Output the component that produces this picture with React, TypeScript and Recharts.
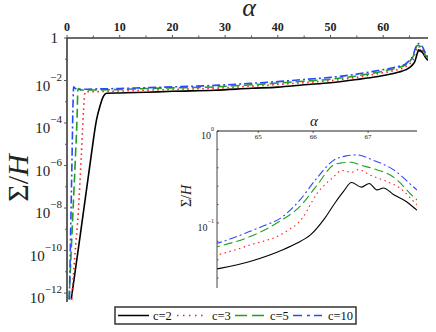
import React from 'react';
import { LineChart, Line, XAxis, YAxis } from 'recharts';

// ---------- data ----------
const alphaC2 = [0.8, 1.5, 2.5, 3.5, 4.5, 5.6, 6.26, 6.9, 7.5, 10, 15, 20, 28, 35, 40, 45, 50, 55, 59, 61, 63, 64.25, 64.85, 65.46, 65.7, 65.95, 66.2, 66.4, 66.55, 66.7, 66.88, 67.02, 67.16, 67.28, 67.46, 67.7, 67.89, 68.5];
const sigmaC2 = [5.0e-13, 8.7e-12, 5.0e-10, 3.2e-8, 2.0e-6, 1.4e-4, 6.3e-4, 1.8e-3, 2.5e-3, 2.6e-3, 2.8e-3, 3.1e-3, 3.5e-3, 4.3e-3, 4.9e-3, 6.3e-3, 7.9e-3, 1.12e-2, 1.55e-2, 1.9e-2, 2.5e-2, 3.16e-2, 3.8e-2, 5.13e-2, 6.0e-2, 7.4e-2, 0.110, 0.166, 0.219, 0.275, 0.245, 0.269, 0.229, 0.240, 0.204, 0.170, 0.138, 0.089];

const alphaC3 = [0.9, 1.5, 2.14, 2.7, 3.13, 3.35, 3.6, 5, 10, 15, 20, 28, 35, 40, 45, 50, 55, 59, 61, 63, 64.25, 64.85, 65.46, 65.8, 66.07, 66.37, 66.52, 66.7, 66.82, 67.04, 67.34, 67.58, 67.89, 68.5];
const sigmaC3 = [5.0e-13, 6.3e-11, 6.3e-9, 2.5e-6, 3.7e-4, 2.2e-3, 3.0e-3, 3.0e-3, 3.2e-3, 3.5e-3, 3.8e-3, 4.3e-3, 5.4e-3, 6.5e-3, 7.9e-3, 9.8e-3, 1.41e-2, 2.1e-2, 2.57e-2, 3.4e-2, 4.47e-2, 5.75e-2, 7.76e-2, 0.112, 0.209, 0.316, 0.372, 0.355, 0.380, 0.331, 0.282, 0.240, 0.158, 0.105];

const alphaC5 = [0.4, 0.8, 1.2, 1.6, 1.95, 2.05, 2.2, 2.6, 5, 10, 15, 20, 28, 35, 40, 45, 50, 55, 59, 61, 63, 64.25, 64.85, 65.4, 65.76, 66.07, 66.37, 66.49, 66.7, 66.85, 67.1, 67.46, 67.89, 68.5];
const sigmaC5 = [5.0e-13, 1.0e-10, 1.6e-8, 2.5e-6, 4.0e-4, 3.5e-3, 4.2e-3, 3.6e-3, 3.6e-3, 3.8e-3, 4.2e-3, 4.5e-3, 5.0e-3, 6.3e-3, 7.6e-3, 9.3e-3, 1.15e-2, 1.66e-2, 2.45e-2, 3.1e-2, 4.1e-2, 5.5e-2, 7.1e-2, 0.105, 0.151, 0.257, 0.427, 0.447, 0.457, 0.427, 0.389, 0.316, 0.178, 0.117];

const alphaC10 = [0.45, 0.7, 0.95, 1.15, 1.25, 1.5, 2, 5, 10, 15, 20, 28, 35, 40, 45, 50, 55, 59, 61, 63, 64.25, 64.85, 65.1, 65.4, 65.76, 66.07, 66.37, 66.61, 66.79, 67.1, 67.46, 67.89, 68.5];
const sigmaC10 = [5.0e-13, 1.0e-9, 2.0e-6, 1.0e-3, 5.0e-3, 4.4e-3, 3.8e-3, 4.0e-3, 4.2e-3, 4.6e-3, 5.0e-3, 5.9e-3, 7.4e-3, 8.9e-3, 1.12e-2, 1.41e-2, 2.0e-2, 2.95e-2, 3.6e-2, 4.7e-2, 6.0e-2, 8.1e-2, 9.3e-2, 0.112, 0.178, 0.309, 0.479, 0.537, 0.550, 0.479, 0.380, 0.229, 0.132];

const seriesNames = ['c=2', 'c=3', 'c=5', 'c=10'];
const mainXTicks = [0, 5, 10, 15, 20, 25, 30, 35, 40, 45, 50, 55, 60, 65];
const mainYExponents = [0, -1, -2, -3, -4, -5, -6, -7, -8, -9, -10, -11, -12];
const insetXTicks = [65, 66, 67];
const insetYExponents = [0, -0.2, -0.4, -0.6, -0.8, -1, -1.2, -1.4, -1.6];

// ---------- styles ----------
const FONT = '"Liberation Serif", "DejaVu Serif", serif';
const styles = [
  { color: '#000000', dash: undefined as string | undefined },
  { color: '#ff1a1a', dash: '1.5 3.5' },
  { color: '#1fa01f', dash: '9 4' },
  { color: '#2a48ff', dash: '8 3 2 3' },
];

const toPoints = (a: number[], s: number[]) => a.map((x, i) => ({ a: x, v: s[i] }));
const series = [
  toPoints(alphaC2, sigmaC2),
  toPoints(alphaC3, sigmaC3),
  toPoints(alphaC5, sigmaC5),
  toPoints(alphaC10, sigmaC10),
];

const MainXTick = (props: any) => {
  const { x, y, payload } = props;
  const v = payload.value;
  const major = v % 10 === 0;
  return (
    <g>
      <line x1={x} x2={x} y1={y} y2={y - (major ? 3 : 2.5)} stroke="#555" strokeWidth={1} />
      {major && (
        <text x={x} y={y - 7} textAnchor="middle" fontFamily={FONT} fontSize={12} fontWeight="bold" fill="#222">
          {v}
        </text>
      )}
    </g>
  );
};

const MainYTick = (props: any) => {
  const { x, y, payload } = props;
  const n = Math.round(Math.log10(payload.value));
  const major = n % 2 === 0;
  return (
    <g>
      <line x1={x} x2={x - (major ? 3 : 2)} y1={y} y2={y} stroke="#555" strokeWidth={1} />
      {major && n === 0 && (
        <text x={x - 9} y={y + 5} textAnchor="end" fontFamily={FONT} fontSize={15} fill="#222">1</text>
      )}
      {major && n !== 0 && (
        <text x={x - 5} y={y + 10} textAnchor="end" fontFamily={FONT} fontSize={15} fill="#222">
          10
          <tspan dy={-10} fontSize={11}>{String(n).replace('-', '\u2212')}</tspan>
        </text>
      )}
    </g>
  );
};

const InsetXTick = (props: any) => {
  const { x, y, payload } = props;
  return (
    <g>
      <line x1={x} x2={x} y1={y} y2={y + 2} stroke="#333" strokeWidth={0.8} />
      <text x={x} y={y + 8} textAnchor="middle" fontFamily={FONT} fontSize={7} fill="#222">{payload.value}</text>
    </g>
  );
};

const InsetYTick = (props: any) => {
  const { x, y, payload } = props;
  const e = Math.log10(payload.value);
  const n = Math.round(e);
  const major = Math.abs(e - n) < 0.01;
  return (
    <g>
      <line x1={x} x2={x + (major ? 2 : 1.5)} y1={y} y2={y} stroke="#333" strokeWidth={0.8} />
      {major && (
        <text x={x - 3} y={y + 8} textAnchor="end" fontFamily={FONT} fontSize={10} fill="#222">
          10
          <tspan dy={-8} fontSize={6}>{n === 0 ? '0' : '\u2212' + String(-n)}</tspan>
        </text>
      )}
    </g>
  );
};

const renderLines = (w: number) =>
  series.map((pts, i) => (
    <Line
      key={seriesNames[i]}
      name={seriesNames[i]}
      data={pts}
      dataKey="v"
      type="monotone"
      stroke={styles[i].color}
      strokeWidth={w}
      strokeDasharray={styles[i].dash}
      dot={false}
      activeDot={false}
      isAnimationActive={false}
    />
  ));

const Legend = () => {
  const items = [
    { x1: 118, x2: 149, tx: 153 },
    { x1: 177, x2: 204, tx: 212 },
    { x1: 235, x2: 265, tx: 270 },
    { x1: 293, x2: 322, tx: 328 },
  ];
  return (
    <g>
      <rect x={115} y={307} width={241} height={17} fill="#fff" stroke="#333" strokeWidth={1.5} />
      {items.map((it, i) => (
        <g key={seriesNames[i]}>
          <line x1={it.x1} x2={it.x2} y1={315.5} y2={315.5} stroke={styles[i].color} strokeWidth={1.5}
            strokeDasharray={i === 1 ? '1.5 4.5' : i === 2 ? '12 5' : i === 3 ? '9 5 3 4' : undefined} />
          <text x={it.tx} y={320} fontFamily={FONT} fontSize={12.5} fill="#111">{seriesNames[i]}</text>
        </g>
      ))}
    </g>
  );
};

export default function App() {
  const mainYTicks = mainYExponents.map((e) => Math.pow(10, e));
  const insetYTicks = insetYExponents.map((e) => Math.pow(10, e));
  return (
    <div style={{ position: 'absolute', left: 0, top: 0, width: 436, height: 332, background: '#fff', overflow: 'hidden' }}>
      <div style={{ position: 'absolute', left: 0, top: 0 }}>
        <LineChart width={436} height={332} margin={{ top: 0, right: 8, bottom: 30, left: 0 }}>
          <XAxis
            dataKey="a"
            type="number"
            orientation="top"
            domain={[0, 68.5]}
            allowDataOverflow
            ticks={mainXTicks}
            tick={<MainXTick />}
            tickLine={false}
            tickSize={0}
            tickMargin={0}
            height={38}
            axisLine={{ stroke: '#3a3a3a', strokeWidth: 1.6 }}
            interval={0}
          />
          <YAxis
            type="number"
            scale="log"
            domain={[3.8e-13, 1]}
            allowDataOverflow
            ticks={mainYTicks}
            tick={<MainYTick />}
            tickLine={false}
            tickSize={0}
            tickMargin={0}
            width={67}
            axisLine={{ stroke: '#3a3a3a', strokeWidth: 1.6 }}
            interval={0}
          />
          {renderLines(1.6)}
        </LineChart>
      </div>
      <div style={{ position: 'absolute', left: 190, top: 110 }}>
        <LineChart width={230} height={180} margin={{ top: 0, right: 3, bottom: 2, left: 0 }}>
          <XAxis
            dataKey="a"
            type="number"
            orientation="top"
            domain={[64.25, 67.89]}
            allowDataOverflow
            ticks={insetXTicks}
            tick={<InsetXTick />}
            tickLine={false}
            tickSize={0}
            tickMargin={0}
            height={21}
            axisLine={{ stroke: '#222', strokeWidth: 1 }}
            interval={0}
          />
          <YAxis
            type="number"
            scale="log"
            domain={[0.0196, 1]}
            allowDataOverflow
            ticks={insetYTicks}
            tick={<InsetYTick />}
            tickLine={false}
            tickSize={0}
            tickMargin={0}
            width={27}
            axisLine={{ stroke: '#444', strokeWidth: 1 }}
            interval={0}
          />
          {renderLines(1.1)}
        </LineChart>
      </div>
      <svg width={436} height={332} style={{ position: 'absolute', left: 0, top: 0, pointerEvents: 'none' }}>
        <text x={249} y={16} textAnchor="middle" fontFamily={FONT} fontStyle="italic" fontSize={26} fill="#222">α</text>
        <text x={17} y={178} transform="rotate(-90 17 178)" textAnchor="middle" dominantBaseline="central" fontFamily={FONT} fontSize={30} fill="#222">
          Σ/<tspan fontStyle="italic">H</tspan>
        </text>
        <text x={314} y={126} textAnchor="middle" fontFamily={FONT} fontStyle="italic" fontSize={15} fill="#222">α</text>
        <text x={186} y={196} transform="rotate(-90 186 196)" textAnchor="middle" dominantBaseline="central" fontFamily={FONT} fontSize={14} fill="#222">
          Σ/<tspan fontStyle="italic">H</tspan>
        </text>
        <Legend />
      </svg>
    </div>
  );
}
